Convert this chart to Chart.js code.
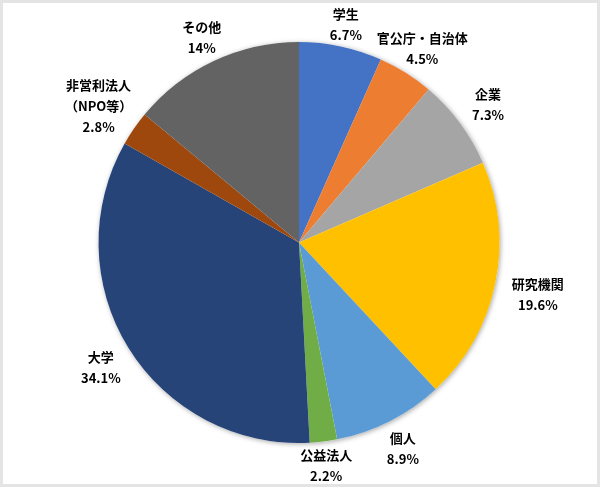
<!DOCTYPE html>
<html>
<head>
<meta charset="utf-8">
<script src="https://cdn.jsdelivr.net/npm/chart.js@4"></script>
<style>
  html, body { margin: 0; padding: 0; background: #fff; }
  #frame { width: 600px; height: 487px; box-sizing: border-box; border: 3px solid #e4e4e4; }
  canvas { display: block; }
</style>
</head>
<body>
<div id="frame"><canvas id="pieChart" width="594" height="481"></canvas></div>
<script>
// data, clockwise from 12 o'clock
var categories = ['学生', '官公庁・自治体', '企業', '研究機関', '個人', '公益法人', '大学', '非営利法人\n（NPO等）', 'その他'];
var shares = [6.7, 4.5, 7.3, 19.6, 8.9, 2.2, 34.1, 2.8, 14];
var sliceColors = ['#4472C4', '#ED7D31', '#A5A5A5', '#FFC000', '#5B9BD5', '#70AD47', '#264478', '#9E480E', '#636363'];

// soft shadow under the whole pie
var pieShadow = {
    id: 'pieShadow',
    beforeDatasetsDraw: function(chart){
        var arc = chart.getDatasetMeta(0).data[0];
        if(!arc) return;
        var ctx = chart.ctx;
        ctx.save();
        ctx.shadowColor = 'rgba(0,0,0,0.35)';
        ctx.shadowBlur = 5;
        ctx.shadowOffsetX = 1;
        ctx.shadowOffsetY = 1;
        ctx.fillStyle = '#fff';
        ctx.beginPath();
        ctx.arc(arc.x, arc.y, arc.outerRadius, 0, Math.PI * 2);
        ctx.fill();
        ctx.restore();
    }
};

// outside labels: name + percentage, pushed out along the slice middle until clear of the pie
var outsideLabels = {
    id: 'outsideLabels',
    afterDatasetsDraw: function(chart){
        var ctx = chart.ctx;
        var meta = chart.getDatasetMeta(0);
        ctx.save();
        ctx.font = 'bold 13px "Noto Sans CJK JP", "Noto Sans", sans-serif';
        ctx.fillStyle = '#000';
        ctx.textAlign = 'center';
        ctx.textBaseline = 'middle';
        meta.data.forEach(function(arc, i){
            var lines = categories[i].split('\n').concat([shares[i] + '%']);
            var n = lines.length, lh = 21;
            var widths = lines.map(function(t){ return ctx.measureText(t).width; });
            var mid = (arc.startAngle + arc.endAngle) / 2;
            var ux = Math.cos(mid), uy = Math.sin(mid);
            var R = arc.outerRadius;
            var gap = 3 + 12 * Math.abs(ux); // labels sit tighter above/below the pie than at its sides
            var clear = function(d){
                return lines.every(function(t, k){
                    var px = ux * d, py = uy * d + (k - (n - 1) / 2) * lh;
                    var nx = Math.max(0, Math.abs(px) - widths[k] / 2);
                    var ny = Math.max(0, Math.abs(py) - 5);
                    return Math.hypot(nx, ny) >= R + gap;
                });
            };
            var d = R;
            while(!clear(d)) d += 0.5;
            lines.forEach(function(t, k){
                ctx.fillText(t, arc.x + ux * d, arc.y + uy * d + (k - (n - 1) / 2) * lh + 2);
            });
        });
        ctx.restore();
    }
};

var ctx_pie = document.getElementById('pieChart').getContext('2d');
var pieChart = new Chart(ctx_pie, {
    type: 'pie',
    data: {
        labels: categories,
        datasets: [{
            data: shares,
            backgroundColor: sliceColors,
            borderWidth: 0
        }]
    },
    options: {
        responsive: false,
        animation: false,
        layout: {
            padding: { left: 95, right: 97, top: 39, bottom: 41 }
        },
        plugins: {
            legend: { display: false },
            tooltip: { enabled: false }
        }
    },
    plugins: [pieShadow, outsideLabels]
});
</script>
</body>
</html>
